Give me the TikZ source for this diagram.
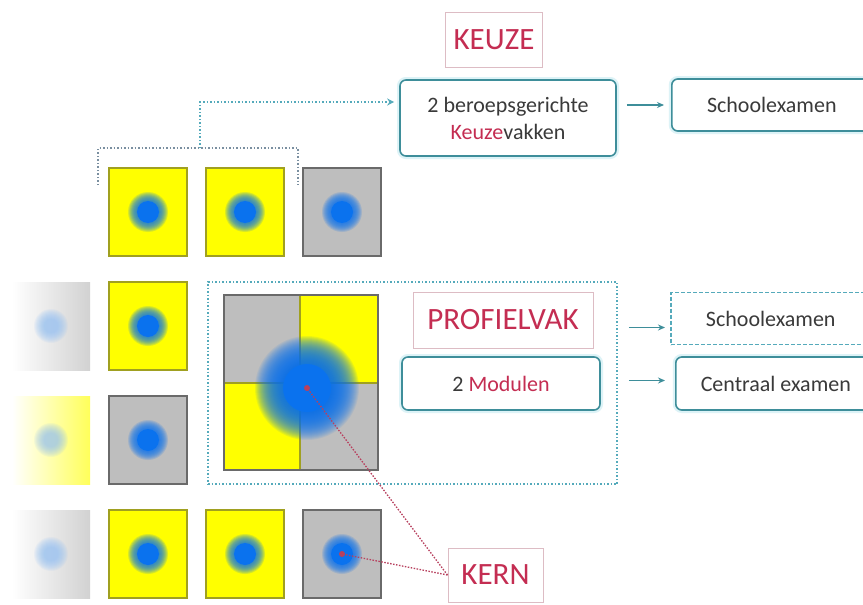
\documentclass[tikz,border=0pt]{standalone}
\usepackage{fontspec}
\setmainfont{Carlito}
\usetikzlibrary{arrows.meta}
\definecolor{sqyellow}{HTML}{FFFF00}
\definecolor{sqgray}{HTML}{BEBEBE}
\definecolor{yborder}{HTML}{A0A020}
\definecolor{gborder}{HTML}{6A6A6A}
\definecolor{dotblue}{HTML}{0A72EE}
\definecolor{tealbox}{HTML}{3E8E9A}
\definecolor{tealglow}{HTML}{DDF3F7}
\definecolor{tealdot}{HTML}{55AABB}
\definecolor{redtxt}{HTML}{C42D52}
\definecolor{pinkborder}{HTML}{DDBCC4}
\definecolor{darktxt}{HTML}{3A3A3A}
\definecolor{reddot}{HTML}{B8405E}
\definecolor{bracketcol}{HTML}{7A8FA0}
\newcommand{\tile}[4]{%
  \draw[#4, line width=1.3pt, fill=#3] (#1,#2) rectangle ++(78,88);
  \foreach \r in {20,19,...,12} \fill[dotblue, fill opacity=0.16] (#1+39,#2+44) circle (\r pt);
  \fill[dotblue] (#1+39,#2+44) circle (11pt);
}
\newcommand{\fadetile}[3]{%
  \shade[left color=white, right color=#3] (#1,#2) rectangle ++(78,88);
  \foreach \r in {17,16,...,7} \fill[dotblue!45, fill opacity=0.1] (#1+39,#2+44) circle (\r pt);
}
\begin{document}
\begin{tikzpicture}[x=1pt,y=-1pt,
  tbox/.style={draw=tealbox, line width=1.6pt, rounded corners=6pt, fill=white,
    preaction={draw=tealglow, line width=6pt}, text=darktxt,
    font=\fontsize{22}{27}\selectfont, inner sep=2pt},
  dashbox/.style={draw=tealdot, line width=1.5pt, dash pattern=on 4pt off 2pt, fill=white,
    text=darktxt, font=\fontsize{22}{27}\selectfont, inner sep=2pt},
  labelbox/.style={draw=pinkborder, line width=1pt, fill=white, text=redtxt,
    font=\fontsize{31}{36}\selectfont, inner sep=0pt},
  arr/.style={draw=tealbox, line width=1.4pt, -{Stealth[length=7pt,width=6pt]}},
  dotline/.style={draw=tealdot, line width=1.5pt, dash pattern=on 1.5pt off 2pt},
  brline/.style={draw=bracketcol, line width=1.5pt, dash pattern=on 1.5pt off 2pt},
  kernline/.style={draw=reddot, line width=1.3pt, dash pattern=on 1.5pt off 1.5pt}]
\fill[white] (0,0) rectangle (863,605);
\useasboundingbox (0,0) rectangle (863,605);

% left tiles
\fadetile{12}{282}{sqgray!70}
\fadetile{12}{396}{sqyellow!65}
\fadetile{12}{510}{sqgray!70}
\tile{109}{168}{sqyellow}{yborder}
\tile{206}{168}{sqyellow}{yborder}
\tile{303}{168}{sqgray}{gborder}
\tile{109}{282}{sqyellow}{yborder}
\tile{109}{396}{sqgray}{gborder}
\tile{109}{510}{sqyellow}{yborder}
\tile{206}{510}{sqyellow}{yborder}
\tile{303}{510}{sqgray}{gborder}

% profielvak frame
\node[draw=tealdot, line width=1.5pt, dash pattern=on 1.5pt off 2pt,
  minimum width=409pt, minimum height=202pt, inner sep=0pt] (profbox) at (412.5,383) {};

% big square
\fill[sqgray] (224,295) rectangle (300,383);
\fill[sqyellow] (300,295) rectangle (378,383);
\fill[sqyellow] (224,383) rectangle (300,470);
\fill[sqgray] (300,383) rectangle (378,470);
\draw[yborder, line width=1.3pt] (300,295) -- (300,470) (224,383) -- (378,383);
\draw[gborder, line width=1.3pt] (224,295) rectangle (378,470);
\coordinate (blob) at (307,388);
\foreach \r in {52,51,...,25} \fill[dotblue, fill opacity=0.085] (blob) circle (\r pt);
\fill[dotblue] (blob) circle (24pt);

% bracket
\draw[brline] (98,185) -- (98,148) -- (298,148) -- (298,185);
\coordinate (brk) at (0,102);

% nodes
\node[labelbox, minimum width=97pt, minimum height=55pt] (keuze) at (494,40) {KEUZE};
\node[tbox, minimum width=216pt, minimum height=76pt, align=center] (beroeps) at (508,118)
  {2 beroepsgerichte\\{\color{redtxt}Keuze}vakken};
\node[tbox, anchor=west, minimum width=200pt, minimum height=52pt] (school1) at (671,105) {Schoolexamen};
\node[labelbox, minimum width=180pt, minimum height=56pt] (profiel) at (503,320) {PROFIELVAK};
\node[tbox, minimum width=198pt, minimum height=53pt] (modulen) at (501,383.5) {2 {\color{redtxt}Modulen}};
\node[dashbox, anchor=west, minimum width=200pt, minimum height=52pt] (school2) at (670,318.5) {Schoolexamen};
\node[tbox, anchor=west, minimum width=200pt, minimum height=53pt] (centraal) at (675,383.5) {Centraal examen};
\node[labelbox, minimum width=95pt, minimum height=54pt] (kern) at (495.5,575) {KERN};

% connectors
\draw[dotline, -{Stealth[length=7pt,width=7pt]}] (200,148) -- (200,102) -- ([xshift=-5pt]beroeps.west |- brk);
\draw[arr] ([xshift=10pt]beroeps.east |- school1.west) -- ([xshift=-7pt]school1.west);
\draw[arr] ([xshift=11pt,yshift=-9pt]profbox.east |- school2.west) -- ([xshift=-5pt,yshift=-9pt]school2.west);
\draw[arr] ([xshift=11pt,yshift=3pt]profbox.east |- centraal.west) -- ([xshift=-10pt,yshift=3pt]centraal.west);

\coordinate (kerndot) at (342,554);
\draw[kernline] (kern.west) -- (blob);
\draw[kernline] (kern.west) -- (kerndot);
\fill[reddot] (blob) circle (3pt);
\fill[reddot] (kerndot) circle (3pt);
\end{tikzpicture}
\end{document}
